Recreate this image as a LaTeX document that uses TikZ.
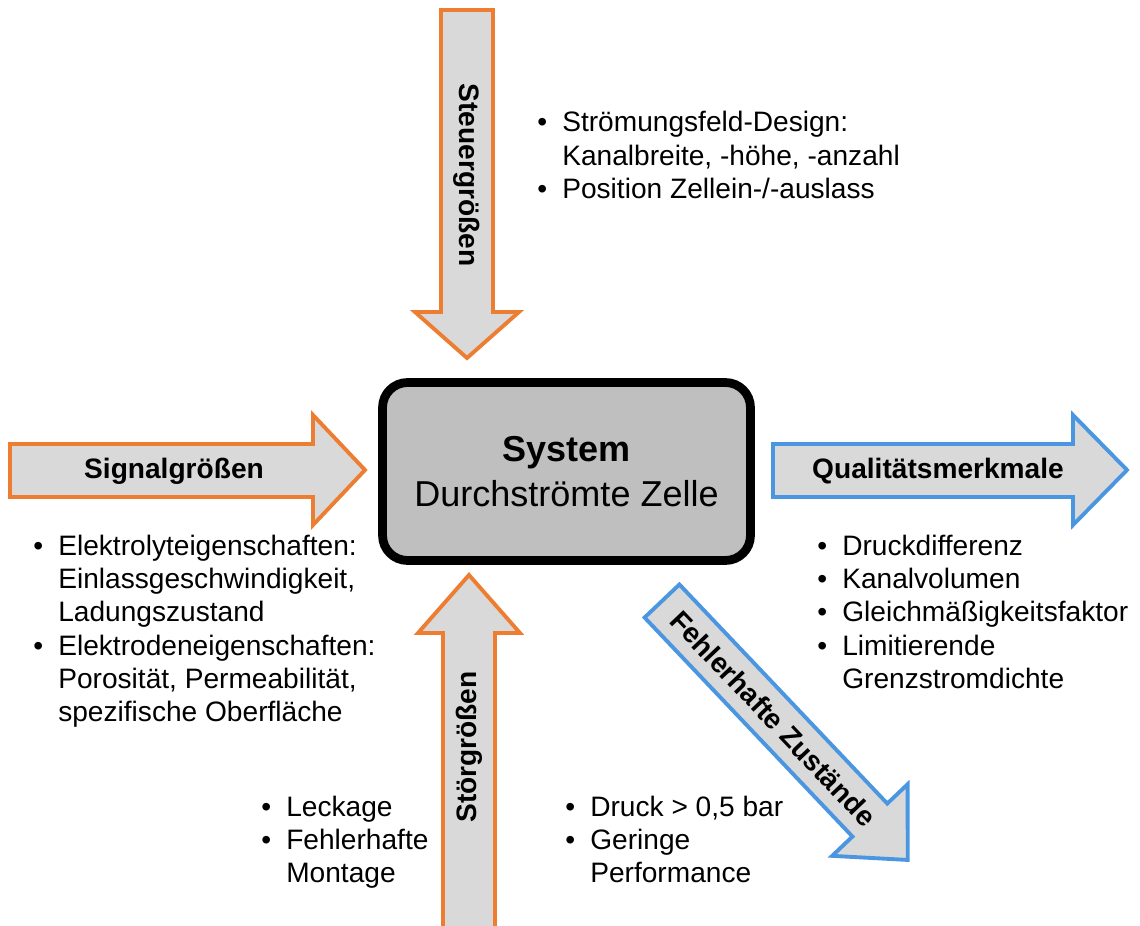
\documentclass[tikz,border=0pt]{standalone}
\usepackage{fontspec}
\setmainfont{Liberation Sans}
\usepackage{tikz}
\usetikzlibrary{positioning}
\definecolor{arroworange}{HTML}{ED7D31}
\definecolor{arrowblue}{HTML}{4A96E0}
\definecolor{arrowfill}{HTML}{D9D9D9}
\definecolor{systemfill}{HTML}{BFBFBF}
\newcommand{\listfont}{\fontsize{16}{19}\selectfont}

\begin{document}
\begin{tikzpicture}[
  x=0.02cm, y=-0.02cm,
  orangearrow/.style={draw=arroworange, line width=2.2pt, fill=arrowfill, line join=miter},
  bluearrow/.style={draw=arrowblue, line width=2.2pt, fill=arrowfill, line join=miter},
  arrowlabel/.style={font=\fontsize{16}{19}\selectfont\bfseries, inner sep=0pt},
  system/.style={rectangle, rounded corners=0.5cm, draw=black, line width=5pt, fill=systemfill, minimum width=7.36cm, minimum height=3.56cm, align=center, font=\fontsize{20.5}{25.6}\selectfont},
  bulletlist/.style={anchor=base west, inner sep=0pt, font=\listfont}
]
\useasboundingbox (0,0) rectangle (1140,926);

% block arrows
\draw[orangearrow] (441,10) -- (493,10) -- (493,312) -- (519,312) -- (467,358) -- (415,312) -- (441,312) -- cycle;
\draw[orangearrow] (443,935) -- (443,633) -- (418,633) -- (469,575) -- (520,633) -- (495,633) -- (495,935) -- cycle;
\draw[orangearrow] (10,444) -- (313,444) -- (313,415) -- (365,470) -- (313,525) -- (313,497) -- (10,497) -- cycle;
\draw[bluearrow] (773,444) -- (1073,444) -- (1073,415) -- (1127,470) -- (1073,525) -- (1073,497) -- (773,497) -- cycle;
\begin{scope}[shift={(662,601)}, rotate=-46.5]
  \draw[bluearrow] (0,-24) -- (302,-24) -- (302,-52) -- (357,0) -- (302,52) -- (302,24) -- (0,24) -- cycle;
\end{scope}

% labels on the arrows
\node[arrowlabel, rotate=-90] (steuer) at (467,175) {Steuergrößen};
\node[arrowlabel, rotate=90] (stoer) at (469,747) {Störgrößen};
\node[arrowlabel] (signal) at (174,471) {Signalgrößen};
\node[arrowlabel] (quali) at (938,471) {Qualitätsmerkmale};
\node[arrowlabel, rotate=-46.5] (fehler) at (773.5,718.5) {Fehlerhafte Zustände};

% system
\node[system] (system) at (566.5,471.5) {\textbf{System}\\Durchströmte Zelle};

% bullet lists
\node[bulletlist] (steuerlist) at (537,132) {\begin{tabular}[t]{@{}l@{\hspace{8.6pt}}l@{}}
  \textbullet & Strömungsfeld-Design:\\
              & Kanalbreite, -höhe, -anzahl\\
  \textbullet & Position Zellein-/-auslass
\end{tabular}};
\node[bulletlist] (signallist) at (33,555) {\begin{tabular}[t]{@{}l@{\hspace{8.6pt}}l@{}}
  \textbullet & Elektrolyteigenschaften:\\
              & Einlassgeschwindigkeit,\\
              & Ladungszustand\\
  \textbullet & Elektrodeneigenschaften:\\
              & Porosität, Permeabilität,\\
              & spezifische Oberfläche
\end{tabular}};
\node[bulletlist] (qualilist) at (817,555) {\begin{tabular}[t]{@{}l@{\hspace{8.6pt}}l@{}}
  \textbullet & Druckdifferenz\\
  \textbullet & Kanalvolumen\\
  \textbullet & Gleichmäßigkeitsfaktor\\
  \textbullet & Limitierende\\
              & Grenzstromdichte
\end{tabular}};
\node[bulletlist] (stoerlist) at (261,816) {\begin{tabular}[t]{@{}l@{\hspace{8.6pt}}l@{}}
  \textbullet & Leckage\\
  \textbullet & Fehlerhafte\\
              & Montage
\end{tabular}};
\node[bulletlist] (fehlerlist) at (565,816) {\begin{tabular}[t]{@{}l@{\hspace{8.6pt}}l@{}}
  \textbullet & Druck > 0,5 bar\\
  \textbullet & Geringe\\
              & Performance
\end{tabular}};
\end{tikzpicture}
\end{document}
